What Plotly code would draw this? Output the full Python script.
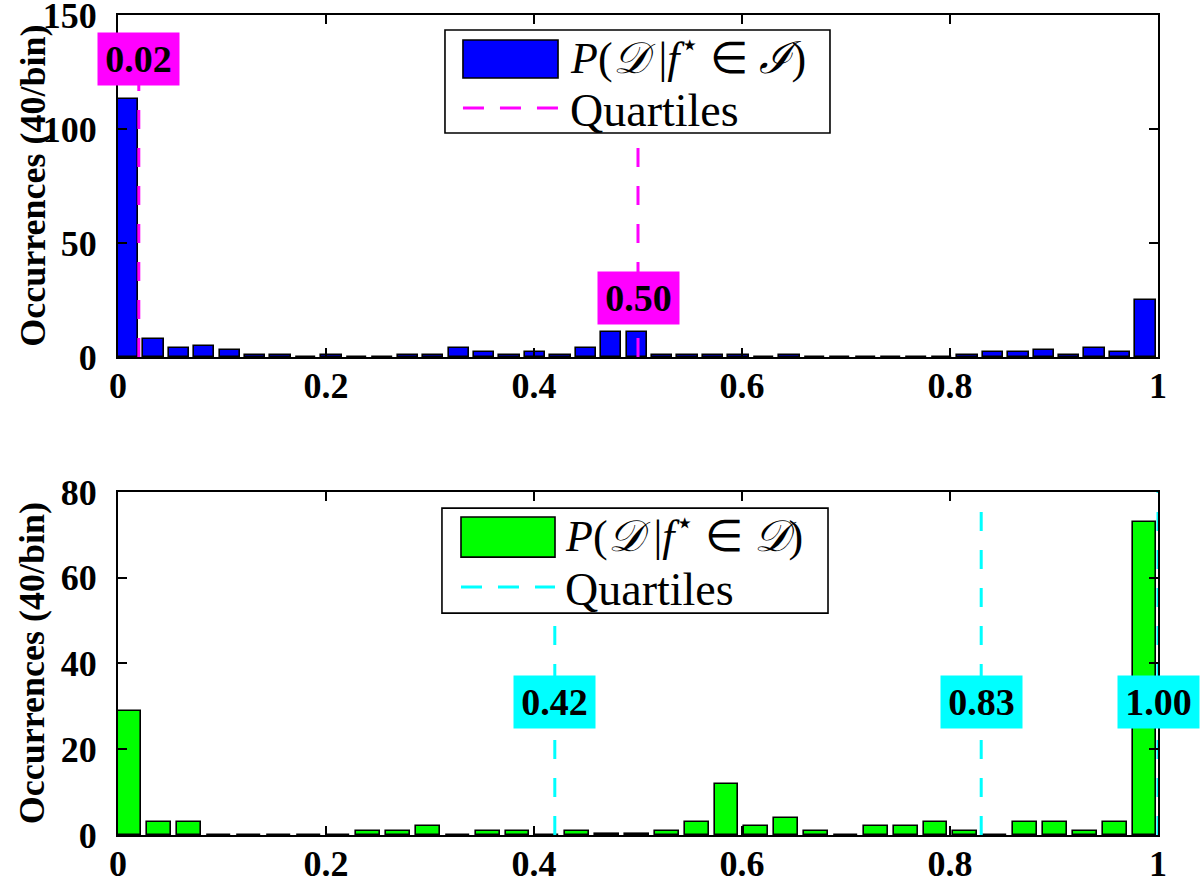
import numpy as np
import plotly.graph_objects as go

# ---------------- data ----------------
top_bin_centers = np.linspace(0.0096, 0.988, 41)
top_counts = [113, 8, 4, 5, 3, 1, 1, 0, 1, 0, 0, 1, 1, 4, 2, 1, 2, 1, 4, 11, 11,
              1, 1, 1, 1, 0, 1, 0, 0, 0, 0, 0, 0, 1, 2, 2, 3, 1, 4, 2, 25]
bottom_bin_centers = np.linspace(0.011, 0.987, 35)
bottom_counts = [29, 3, 3, 0, 0, 0, 0, 0, 1, 1, 2, 0, 1, 1, 0, 1, 0.3, 0.3, 1, 3, 12,
                 2, 4, 1, 0, 2, 2, 3, 1, 0, 3, 3, 1, 3, 73]
top_quartiles = [0.02, 0.50]
top_quartile_labels = ["0.02", "0.50"]
bottom_quartiles = [0.42, 0.83, 1.00]
bottom_quartile_labels = ["0.42", "0.83", "1.00"]
x_tick_vals = [0, 0.2, 0.4, 0.6, 0.8, 1]
x_tick_text = ["0", "0.2", "0.4", "0.6", "0.8", "1"]
top_y_ticks = [0, 50, 100, 150]
bottom_y_ticks = [0, 20, 40, 60, 80]
top_legend_label = "<i>P</i>(<i>𝒟</i> |<i>f</i><sup>⋆</sup> ∈ <i>ℐ</i>)"
bottom_legend_label = "<i>P</i>(<i>𝒟</i> |<i>f</i><sup>⋆</sup> ∈ <i>𝒟</i>)"
y_title = "Occurrences (40/bin)"

# ---------------- style ----------------
BLUE = "#0000FF"
GREEN = "#00FF00"
MAGENTA = "#FF00FF"
CYAN = "#00FFFF"
SERIF = "Liberation Serif"
DASH = "19px,19px"

top_line_tops = [125, 93]
top_label_y = [130.5, 26]
bottom_line_tops = [76.5, 76.5, 80]
bottom_label_y = [31, 31, 31]

fig = go.Figure()

top_w = 0.8 * (top_bin_centers[1] - top_bin_centers[0])
bot_w = 0.8 * (bottom_bin_centers[1] - bottom_bin_centers[0])

fig.add_trace(go.Bar(x=top_bin_centers, y=top_counts, width=top_w,
                     marker=dict(color=BLUE, line=dict(color="black", width=1.6)),
                     xaxis="x", yaxis="y", showlegend=False))
fig.add_trace(go.Bar(x=bottom_bin_centers, y=bottom_counts, width=bot_w,
                     marker=dict(color=GREEN, line=dict(color="black", width=1.6)),
                     xaxis="x2", yaxis="y2", showlegend=False))

for q, t in zip(top_quartiles, top_line_tops):
    fig.add_trace(go.Scatter(x=[q, q], y=[0, t], mode="lines",
                             line=dict(color=MAGENTA, width=3, dash=DASH),
                             xaxis="x", yaxis="y", showlegend=False, cliponaxis=False))
for q, t in zip(bottom_quartiles, bottom_line_tops):
    fig.add_trace(go.Scatter(x=[q, q], y=[0, t], mode="lines",
                             line=dict(color=CYAN, width=3, dash=DASH),
                             xaxis="x2", yaxis="y2", showlegend=False, cliponaxis=False))

annotations = []
for q, lab, yy in zip(top_quartiles, top_quartile_labels, top_label_y):
    annotations.append(dict(x=q, y=yy, xref="x", yref="y", text=lab, showarrow=False,
                            bgcolor=MAGENTA, borderpad=0, width=81, height=52,
                            font=dict(family=SERIF, size=38, color="black", weight="bold")))
for q, lab, yy in zip(bottom_quartiles, bottom_quartile_labels, bottom_label_y):
    annotations.append(dict(x=q, y=yy, xref="x2", yref="y2", text=lab, showarrow=False,
                            bgcolor=CYAN, borderpad=0, width=81, height=52,
                            font=dict(family=SERIF, size=38, color="black", weight="bold")))

# y-axis titles
for yref in ["y domain", "y2 domain"]:
    annotations.append(dict(x=-0.082, y=0.5, xref="paper", yref=yref, text=y_title,
                            textangle=-90, showarrow=False, xanchor="center", yanchor="middle",
                            font=dict(family=SERIF, size=36, color="black", weight="bold")))

shapes = []
# legends drawn manually
legends = [
    dict(xd="x domain", yd="y domain", box=(0.3144, 0.6846, 0.655, 0.956),
         patch=(0.3317, 0.4231, 0.816, 0.927), color=BLUE, qcolor=MAGENTA,
         t1=(0.4327, 0.882), dashy=0.728, t2y=0.722, label=top_legend_label),
    dict(xd="x2 domain", yd="y2 domain", box=(0.3115, 0.6827, 0.647, 0.953),
         patch=(0.3298, 0.4202, 0.810, 0.927), color=GREEN, qcolor=CYAN,
         t1=(0.4279, 0.878), dashy=0.723, t2y=0.717, label=bottom_legend_label),
]
for L in legends:
    x0, x1, y0, y1 = L["box"]
    shapes.append(dict(type="rect", xref=L["xd"], yref=L["yd"], x0=x0, x1=x1, y0=y0, y1=y1,
                       fillcolor="white", line=dict(color="black", width=1.6), layer="above"))
    px0, px1, py0, py1 = L["patch"]
    shapes.append(dict(type="rect", xref=L["xd"], yref=L["yd"], x0=px0, x1=px1, y0=py0, y1=py1,
                       fillcolor=L["color"], line=dict(color="black", width=1.6), layer="above"))
    shapes.append(dict(type="line", xref=L["xd"], yref=L["yd"], x0=px0, x1=px1,
                       y0=L["dashy"], y1=L["dashy"],
                       line=dict(color=L["qcolor"], width=3, dash="21px,16px"), layer="above"))
    annotations.append(dict(x=L["t1"][0], y=L["t1"][1], xref=L["xd"], yref=L["yd"],
                            text=L["label"], showarrow=False, xanchor="left", yanchor="middle",
                            font=dict(family=SERIF, size=44, color="black")))
    annotations.append(dict(x=L["t1"][0], y=L["t2y"], xref=L["xd"], yref=L["yd"],
                            text="Quartiles", showarrow=False, xanchor="left", yanchor="middle",
                            font=dict(family=SERIF, size=46, color="black")))

axis_common = dict(showline=True, linecolor="black", linewidth=2, mirror="ticks",
                   ticks="inside", ticklen=9, tickwidth=1.6, tickcolor="black",
                   showgrid=False, zeroline=False, automargin=False,
                   ticklabeloverflow="allow",
                   tickfont=dict(family=SERIF, size=36, color="black", weight="bold"))

fig.update_layout(
    width=1200, height=881,
    margin=dict(l=118, r=42, t=15, b=46),
    paper_bgcolor="white", plot_bgcolor="white",
    bargap=0, showlegend=False,
    xaxis=dict(domain=[0, 1], anchor="y", range=[0, 1], tickvals=x_tick_vals,
               ticktext=x_tick_text, ticklabelstandoff=-4, **axis_common),
    yaxis=dict(domain=[0.5829, 1], anchor="x", range=[0, 150], tickvals=top_y_ticks,
               ticklabelstandoff=12, **axis_common),
    xaxis2=dict(domain=[0, 1], anchor="y2", range=[0, 1], tickvals=x_tick_vals,
                ticktext=x_tick_text, ticklabelstandoff=-4, **axis_common),
    yaxis2=dict(domain=[0, 0.4183], anchor="x2", range=[0, 80], tickvals=bottom_y_ticks,
                ticklabelstandoff=12, **axis_common),
    annotations=annotations,
    shapes=shapes,
)

fig.write_html("out.html",
               config={"displayModeBar": False},
               post_script="document.body.style.margin='0';document.body.style.overflow='hidden';")
